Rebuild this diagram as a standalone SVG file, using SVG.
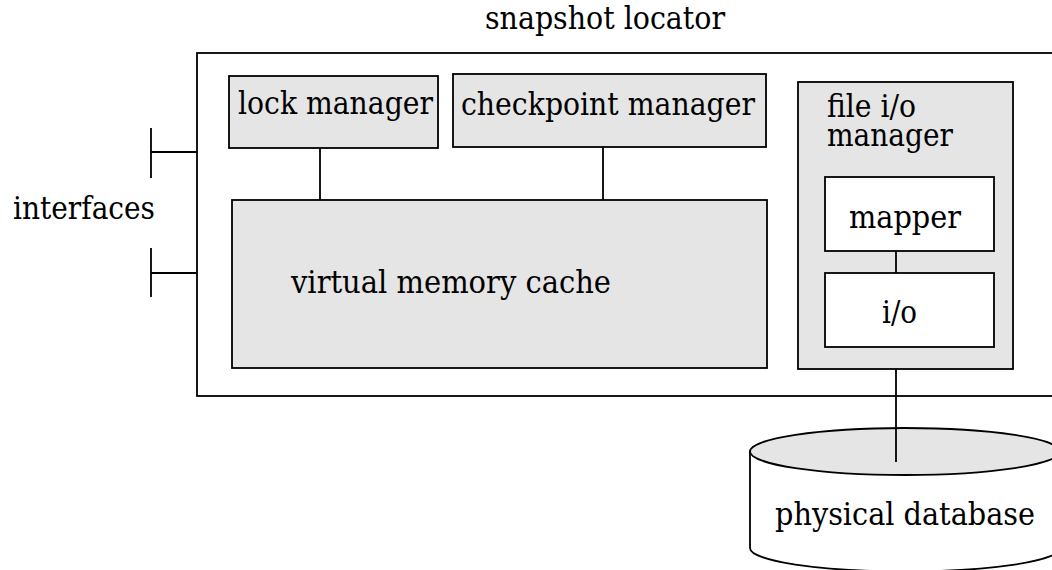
<svg xmlns="http://www.w3.org/2000/svg" width="1052" height="570" viewBox="0 0 1052 570">
<style>
.box{fill:#e5e5e5;stroke:#000;stroke-width:1.8}
.wbox{fill:#fff;stroke:#000;stroke-width:1.8}
.ln{fill:none;stroke:#000;stroke-width:1.8}
text{font-family:'DejaVu Serif Condensed','DejaVu Serif',serif;font-stretch:condensed;font-size:32px;fill:#000}
</style>
<rect width="1052" height="570" fill="#fff"/>
<g id="snapshot-locator">
<rect x="197" y="53" width="880" height="343" fill="#fff" stroke="#000" stroke-width="1.8"/>
<text x="485" y="29" textLength="240" lengthAdjust="spacingAndGlyphs">snapshot locator</text>
</g>
<g id="interfaces">
<path class="ln" d="M151 128V178M151 152H197M151 248V297M151 273H197"/>
<text x="13" y="219" textLength="142" lengthAdjust="spacingAndGlyphs">interfaces</text>
</g>
<g id="lock-manager">
<rect class="box" x="229" y="76" width="209" height="72"/>
<text x="238" y="114" textLength="195" lengthAdjust="spacingAndGlyphs">lock manager</text>
</g>
<g id="checkpoint-manager">
<rect class="box" x="453" y="74" width="313" height="73"/>
<text x="461" y="115" textLength="294" lengthAdjust="spacingAndGlyphs">checkpoint manager</text>
</g>
<g id="virtual-memory-cache">
<rect class="box" x="232" y="200" width="535" height="168"/>
<text x="291" y="293" textLength="320" lengthAdjust="spacingAndGlyphs">virtual memory cache</text>
</g>
<g id="file-io-manager">
<rect class="box" x="798" y="82" width="215" height="287"/>
<text x="827" y="117" textLength="89" lengthAdjust="spacingAndGlyphs">file i/o</text>
<text x="827" y="146" textLength="126" lengthAdjust="spacingAndGlyphs">manager</text>
</g>
<g id="mapper">
<rect class="wbox" x="825" y="177" width="169" height="74"/>
<text x="849" y="228" textLength="112" lengthAdjust="spacingAndGlyphs">mapper</text>
</g>
<g id="io">
<rect class="wbox" x="825" y="273" width="169" height="74"/>
<text x="882" y="323" textLength="35" lengthAdjust="spacingAndGlyphs">i/o</text>
</g>
<g id="physical-database">
<path class="wbox" d="M750 451.5V548A155 23.5 0 0 0 1060 548V451.5Z"/>
<ellipse class="box" cx="905" cy="451.5" rx="155" ry="23.5"/>
<text x="775" y="525" textLength="260" lengthAdjust="spacingAndGlyphs">physical database</text>
</g>
<g id="connectors">
<path class="ln" d="M320 148V200M603 147V200M896 251V273M896 369V462"/>
</g>
</svg>
